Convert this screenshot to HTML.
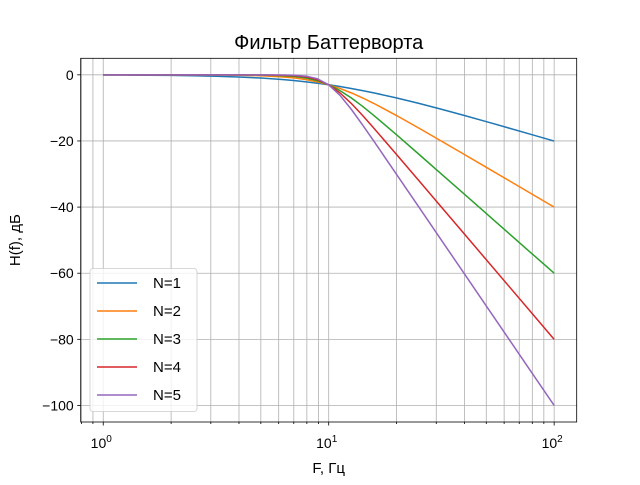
<!DOCTYPE html>
<html><head><meta charset="utf-8"><style>
body{margin:0;background:#fff}
svg text{font-family:"Liberation Sans",sans-serif;fill:#000}
</style></head><body>
<svg id="c" width="640" height="480"></svg>
<script>
const freqs=[1,1.259,1.585,1.995,2.512,3.162,3.981,5.012,6.310,7.079,7.943,8.913,10,11.22,12.59,14.13,15.85,19.95,25.12,31.62,39.81,50.12,63.10,79.43,100];
const seriesN1=[-0.043,-0.068,-0.108,-0.170,-0.266,-0.414,-0.639,-0.973,-1.455,-1.764,-2.124,-2.539,-3.01,-3.539,-4.125,-4.764,-5.455,-6.973,-8.639,-10.41,-12.27,-14.17,-16.11,-18.07,-20.04];
const seriesN2=[0,0,-0.003,-0.007,-0.017,-0.043,-0.108,-0.266,-0.639,-0.973,-1.455,-2.124,-3.01,-4.125,-5.455,-6.973,-8.639,-12.27,-16.11,-20.04,-24.02,-28.01,-32.0,-36.0,-40.0];
const seriesN3=[0,0,0,0,-0.001,-0.004,-0.017,-0.068,-0.266,-0.515,-0.973,-1.764,-3.01,-4.764,-6.973,-9.515,-12.27,-18.07,-24.02,-30.0,-36.0,-42.0,-48.0,-54.0,-60.0];
const seriesN4=[0,0,0,0,0,0,-0.003,-0.017,-0.108,-0.266,-0.639,-1.455,-3.01,-5.455,-8.639,-12.27,-16.11,-24.02,-32.0,-40.0,-48.0,-56.0,-64.0,-72.0,-80.0];
const seriesN5=[0,0,0,0,0,0,0,-0.004,-0.043,-0.135,-0.414,-1.193,-3.01,-6.193,-10.41,-15.14,-20.04,-30.0,-40.0,-50.0,-60.0,-70.0,-80.0,-90.0,-100.0];
const seriesNames=["N=1","N=2","N=3","N=4","N=5"];
const colors=["#1f77b4","#ff7f0e","#2ca02c","#d62728","#9467bd"];
const yTicks=[0,-20,-40,-60,-80,-100];
const xTickExps=[0,1,2];

const svg=document.getElementById('c');
const NS="http://www.w3.org/2000/svg";
const L=80.7,R=576.7,T=58.3,B=422;
const xMin=-0.1,xMax=2.1,yMin=-105,yMax=5;
function xs(f){return L+(Math.log10(f)-xMin)/(xMax-xMin)*(R-L);}
function ys(v){return T+(yMax-v)/(yMax-yMin)*(B-T);}
function mk(tag,attrs,parent){const e=document.createElementNS(NS,tag);for(const k in attrs)e.setAttribute(k,attrs[k]);(parent||svg).appendChild(e);return e;}

const grid=mk('g',{});


for(let d=-1;d<=2;d++)for(let m=1;m<10;m++){const f=m*Math.pow(10,d);const x=xs(f);if(x<L||x>R)continue;
 mk('line',{x1:x,x2:x,y1:T,y2:B,stroke:'#b0b0b0','stroke-width':0.8},grid);
 mk('line',{x1:x,x2:x,y1:B,y2:B+(m==1?3.5:2),stroke:'#000','stroke-width':0.8});}
yTicks.forEach(v=>{const y=ys(v);mk('line',{x1:L,x2:R,y1:y,y2:y,stroke:'#b0b0b0','stroke-width':0.8},grid);
 mk('line',{x1:L-3.5,x2:L,y1:y,y2:y,stroke:'#000','stroke-width':0.8});
 const t=mk('text',{x:L-7,y:y+5,'text-anchor':'end','font-size':14});t.textContent=(v<0?'\u2212':'')+Math.abs(v);
 
 });
xTickExps.forEach(e=>{const x=xs(Math.pow(10,e));const t=mk('text',{x:x-2,y:448,'text-anchor':'middle','font-size':14});
 t.innerHTML='10<tspan dy="-6" font-size="10">'+e+'</tspan>';
 
 });

const all=[seriesN1,seriesN2,seriesN3,seriesN4,seriesN5];
all.forEach((s,i)=>{const p=mk('polyline',{points:s.map((v,j)=>xs(freqs[j])+','+ys(v)).join(' '),fill:'none',stroke:colors[i],'stroke-width':1.5,'stroke-linejoin':'round'});
 
 });

const frame=mk('rect',{x:L,y:T,width:R-L,height:B-T,fill:'none',stroke:'#000','stroke-width':0.8});



const title=mk('text',{x:(L+R)/2,y:49,'text-anchor':'middle','font-size':20});title.textContent='Фильтр Баттерворта';


const xl=mk('text',{x:(L+R)/2,y:473,'text-anchor':'middle','font-size':15});xl.textContent='F, Гц';


const yl=mk('text',{x:0,y:0,'text-anchor':'middle','font-size':15,transform:'translate(20,'+((T+B)/2)+') rotate(-90)'});yl.textContent='H(f), дБ';



const lg=mk('g',{});


mk('rect',{x:90,y:268.5,width:107,height:143,rx:3,fill:'#fff','fill-opacity':0.8,stroke:'#ccc','stroke-width':0.8},lg);
seriesNames.forEach((n,i)=>{const y=283+i*28;
 const ln=mk('line',{x1:97,x2:137,y1:y,y2:y,stroke:colors[i],'stroke-width':1.5},lg);
 
 
 const t=mk('text',{x:153,y:y+5,'font-size':15},lg);t.textContent=n;
 
 });
</script>
</body></html>
